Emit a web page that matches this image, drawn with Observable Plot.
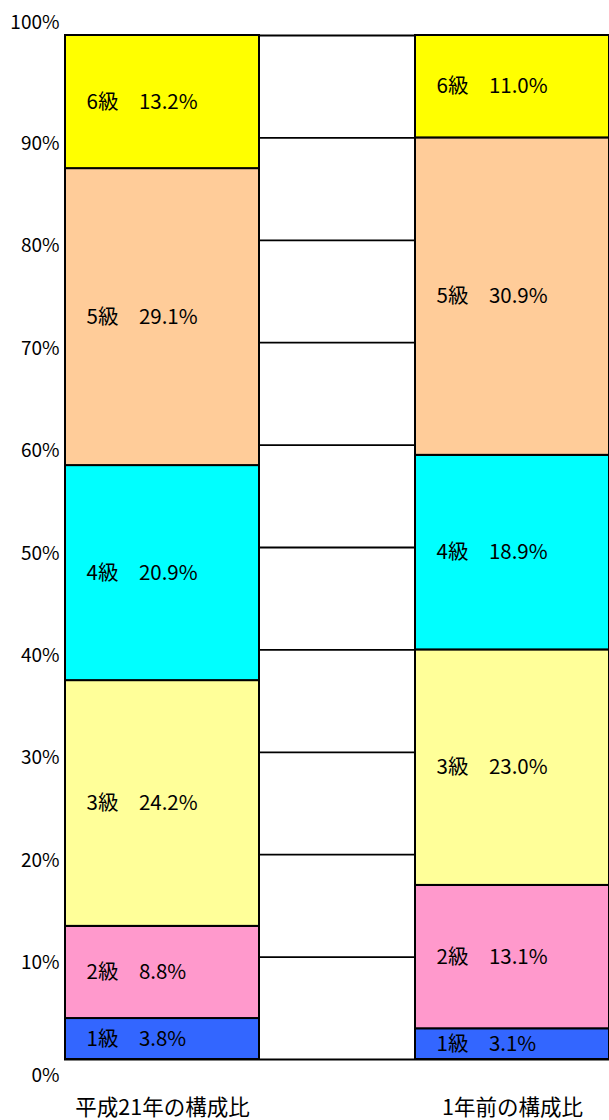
<!DOCTYPE html>
<html><head><meta charset="utf-8">
<script src="https://cdn.jsdelivr.net/npm/d3@7"></script>
<script src="https://cdn.jsdelivr.net/npm/@observablehq/plot@0.6"></script>
<style>body{margin:0;background:#fff}</style>
</head><body><div id="chart"></div>
<script>
const categories = ["平成21年の構成比", "1年前の構成比"];
const grades = ["1級", "2級", "3級", "4級", "5級", "6級"];
// values printed in the labels
const sharesH21 = [3.8, 8.8, 24.2, 20.9, 29.1, 13.2];
const sharesPrev = [3.1, 13.1, 23.0, 18.9, 30.9, 11.0];
// heights of the segments as drawn in the picture
const drawnH21 = [4, 9, 24, 21, 29, 13];
const drawnPrev = [3, 14, 23, 19, 31, 10];
const gradeColors = ["#3366FF", "#FF99CC", "#FFFF99", "#00FFFF", "#FFCC99", "#FFFF00"];
const yTicks = [0, 10, 20, 30, 40, 50, 60, 70, 80, 90, 100];

const data = [];
grades.forEach((g, i) => data.push({cat: categories[0], grade: g, value: drawnH21[i], share: sharesH21[i]}));
grades.forEach((g, i) => data.push({cat: categories[1], grade: g, value: drawnPrev[i], share: sharesPrev[i]}));

const font = "'Noto Sans CJK JP', 'Noto Sans', sans-serif";
const axisOpts = {tickSize: 0, tickPadding: 5, tickFormat: d => d + "%", fontSize: 19, label: null};

const chart = Plot.plot({
  width: 609, height: 1120,
  marginTop: 35, marginBottom: 61, marginLeft: 64, marginRight: 0,
  style: {fontFamily: font, fontSize: "20px", color: "#000", background: "#fff"},
  x: {domain: categories, range: [64, 610], paddingInner: 0.4444, paddingOuter: 0, label: null},
  y: {domain: [0, 100], label: null},
  color: {domain: grades, range: gradeColors},
  marks: [
    Plot.ruleY(yTicks, {stroke: "#000", strokeWidth: 1.8}),
    Plot.barY(data, {x: "cat", y: "value", fill: "grade", stroke: "#000", strokeWidth: 2}),
    Plot.text(data, Plot.stackY({
      x: "cat", y: "value",
      text: d => `${d.grade}　${d.share.toFixed(1)}%`,
      textAnchor: "start", dx: -76, fontSize: 20.5, fill: "#000"
    })),
    Plot.axisY(yTicks.filter(t => t > 0 && t < 100), {...axisOpts, dy: 6}),
    Plot.axisY([100], {...axisOpts, dy: -13}),
    Plot.axisY([0], {...axisOpts, dy: 16}),
    Plot.axisX({tickSize: 0, tickPadding: 40, fontSize: 21.5, label: null})
  ]
});
document.getElementById("chart").appendChild(chart);
</script>
</body></html>
